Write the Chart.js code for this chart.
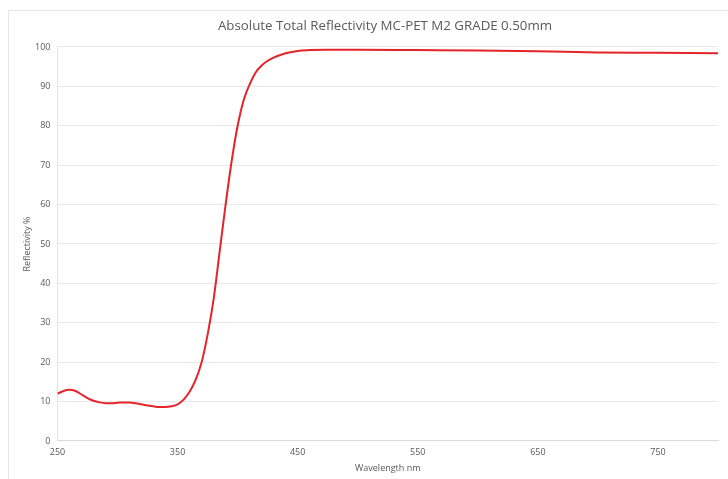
<!DOCTYPE html>
<html>
<head>
<meta charset="utf-8">
<script src="https://cdn.jsdelivr.net/npm/chart.js@4/dist/chart.umd.min.js"></script>
<style>
  html, body { margin: 0; padding: 0; background: #fff; overflow: hidden; }
  #frame {
    position: absolute; left: 8px; top: 10px; width: 760px; height: 500px;
    border: 1px solid #e6e6e6; box-sizing: border-box;
  }
  #wrap { position: absolute; left: 0; top: 0; width: 770px; height: 479px; }
</style>
</head>
<body>
<div id="frame"></div>
<div id="wrap"><canvas id="chart"></canvas></div>
<script>
// Wavelength (nm) and reflectivity (%)
const wavelengths = [250, 255, 260, 265, 270, 275, 280, 285, 290, 295, 300, 305, 310, 315, 320, 325, 330, 335, 340, 345,
  350, 355, 360, 365, 370, 375, 380, 385, 390, 395, 400, 405, 410, 415, 420, 425, 430, 435, 440, 450,
  460, 475, 500, 550, 600, 650, 700, 750, 800];
const reflectivity = [12.0, 12.7, 13.0, 12.7, 11.8, 10.9, 10.2, 9.8, 9.6, 9.6, 9.7, 9.8, 9.8, 9.6, 9.3, 9.0, 8.8, 8.6, 8.6, 8.8,
  9.3, 10.5, 12.5, 15.5, 20.0, 27.0, 36.0, 48.0, 60.0, 71.0, 80.0, 86.5, 90.5, 93.5, 95.3, 96.5, 97.3, 97.9, 98.4, 99.0,
  99.2, 99.3, 99.3, 99.2, 99.1, 98.9, 98.6, 98.5, 98.4];
const xTicks = [250, 350, 450, 550, 650, 750];
const yTicks = [0, 10, 20, 30, 40, 50, 60, 70, 80, 90, 100];

const textColor = '#595959';
const gridColor = '#e8e8e8';
const font = 'Open Sans, Lato, sans-serif';

new Chart(document.getElementById('chart'), {
  type: 'line',
  data: {
    datasets: [{
      label: 'Reflectivity',
      data: wavelengths.map((w, i) => ({ x: w, y: reflectivity[i] })),
      borderColor: '#e3242b',
      borderWidth: 2,
      pointRadius: 0,
      fill: false,
      cubicInterpolationMode: 'monotone'
    }]
  },
  options: {
    responsive: true,
    maintainAspectRatio: false,
    animation: false,
    layout: { padding: { top: 10, left: 10, right: 10, bottom: 2 } },
    plugins: {
      legend: { display: false },
      tooltip: { enabled: false },
      title: {
        display: true,
        text: 'Absolute Total Reflectivity MC-PET M2 GRADE 0.50mm',
        color: textColor,
        font: { family: font, size: 13.3, weight: 'normal' },
        padding: { top: 8, bottom: 13 }
      }
    },
    scales: {
      x: {
        type: 'linear',
        min: 250,
        max: 800,
        afterBuildTicks: axis => { axis.ticks = xTicks.map(v => ({ value: v })); },
        afterFit: axis => { axis.height = 36; },
        ticks: { color: textColor, font: { family: font, size: 9 }, padding: 6, maxRotation: 0 },
        grid: { display: false, drawTicks: false },
        border: { color: '#d9d9d9' },
        title: {
          display: true, text: 'Wavelength nm', color: textColor,
          font: { family: font, size: 9 }, padding: { top: 0, bottom: 3 }
        }
      },
      y: {
        min: 0,
        max: 100,
        afterBuildTicks: axis => { axis.ticks = yTicks.map(v => ({ value: v })); },
        afterFit: axis => { axis.width = 47.5; },
        ticks: { color: textColor, font: { family: font, size: 9 }, padding: 7 },
        grid: { color: gridColor, drawTicks: false },
        border: { color: '#e3e3e3' },
        title: {
          display: true, text: 'Reflectivity %', color: textColor,
          font: { family: font, size: 9 }, padding: { top: 12, bottom: 0 }
        }
      },
      // empty right-hand box so the plot ends at the window edge while the title stays centred on the frame
      spacer: {
        position: 'right',
        min: 0,
        max: 100,
        afterFit: axis => { axis.width = 42; },
        ticks: { display: false },
        grid: { display: false, drawTicks: false },
        border: { display: false }
      }
    }
  }
});
</script>
</body>
</html>
